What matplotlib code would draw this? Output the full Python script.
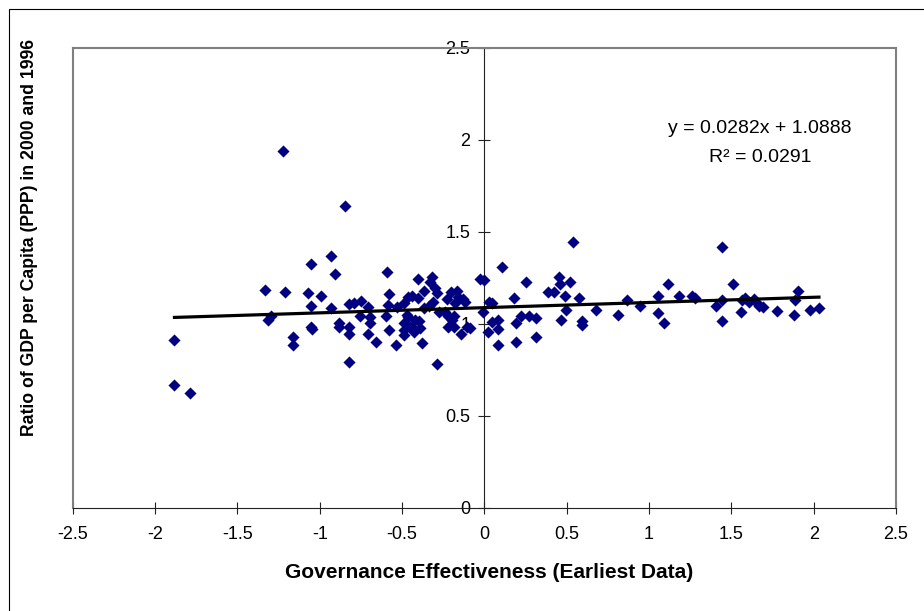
import matplotlib
matplotlib.use('Agg')
import matplotlib.pyplot as plt
import numpy as np

plt.rcParams['font.family'] = ['Liberation Sans', 'DejaVu Sans']

# governance effectiveness (earliest data) -> ratio of GDP per capita 2000/1996
gov_eff = [
    -1.882, -1.882, -1.789,
    -1.331, -1.313, -1.295, -1.224, -1.213, -1.163, -1.163,
    -1.055, -1.070, -1.055, -1.055, -1.045,
    -0.991, -0.930, -0.909, -0.930, -0.884, -0.884,
    -0.848, -0.823, -0.823, -0.823, -0.823,
    -0.794, -0.758, -0.751, -0.705, -0.694, -0.705, -0.658, -0.694,
    -0.594, -0.580, -0.587, -0.580, -0.598, -0.532, -0.537,
    -0.490, -0.472, -0.487, -0.487, -0.454, -0.437, -0.426, -0.491, -0.461, -0.461, -0.421,
    -0.401, -0.394, -0.379, -0.365, -0.365, -0.400, -0.390, -0.441,
    -0.329, -0.315, -0.301, -0.286, -0.311, -0.336, -0.275, -0.289,
    -0.229, -0.222, -0.204, -0.186, -0.186, -0.168, -0.140, -0.132, -0.104, -0.222, -0.239,
    -0.197, -0.158, -0.117, -0.178, -0.087,
    -0.025, 0.000, -0.007, 0.029, 0.047, 0.021, 0.045, 0.082, 0.082, 0.082, 0.107,
    0.179, 0.193, 0.193, 0.225, 0.254, 0.272, 0.315, 0.315,
    0.386, 0.422, 0.451, 0.458, 0.465, 0.487, 0.494, 0.522, 0.537, 0.572, 0.594, 0.594,
    0.680, 0.809, 0.869, 0.945, 1.052, 1.052, 1.091, 1.113, 1.184, 1.263, 1.281,
    1.406, 1.445, 1.442, 1.445, 1.513, 1.556, 1.567, 1.585, 1.605, 1.639, 1.656, 1.667,
    1.692, 1.775, 1.882, 1.889, 1.907, 1.979, 2.032,
]
gdp_ratio = [
    0.914, 0.668, 0.626,
    1.183, 1.020, 1.041, 1.942, 1.172, 0.927, 0.884,
    1.325, 1.166, 1.098, 0.986, 0.971,
    1.151, 1.368, 1.272, 1.088, 1.007, 0.982,
    1.643, 1.109, 0.982, 0.944, 0.791,
    1.113, 1.041, 1.126, 1.092, 1.003, 0.944, 0.901, 1.040,
    1.285, 1.162, 1.103, 0.965, 1.045, 1.094, 0.884,
    1.113, 1.050, 1.003, 0.939, 0.986, 1.151, 0.954, 0.967, 1.148, 1.040, 1.022,
    1.246, 1.014, 0.897, 1.177, 1.088, 1.140, 0.977, 0.985,
    1.226, 1.257, 1.194, 0.781, 1.120, 1.098, 1.067, 1.167,
    1.135, 0.986, 1.172, 1.041, 0.982, 1.177, 0.944, 1.135, 0.982, 1.045, 1.067,
    1.022, 1.148, 1.121, 1.112, 0.977,
    1.245, 1.240, 1.067, 1.120, 1.113, 0.956, 1.013, 1.024, 0.971, 0.884, 1.308,
    1.141, 1.003, 0.901, 1.045, 1.226, 1.045, 1.035, 0.927,
    1.172, 1.172, 1.253, 1.219, 1.020, 1.151, 1.077, 1.226, 1.448, 1.141, 1.014, 0.992,
    1.077, 1.050, 1.130, 1.098, 1.151, 1.060, 1.007, 1.215, 1.151, 1.151, 1.141,
    1.098, 1.416, 1.130, 1.018, 1.215, 1.067, 1.130, 1.141, 1.121, 1.135, 1.112, 1.098,
    1.092, 1.073, 1.050, 1.130, 1.177, 1.077, 1.088,
]
# linear trend shown on the chart
slope = 0.0282
intercept = 1.0888
r_squared = 0.0291

x_ticks = [-2.5, -2, -1.5, -1, -0.5, 0, 0.5, 1, 1.5, 2, 2.5]
x_labels = ['-2.5', '-2', '-1.5', '-1', '-0.5', '0', '0.5', '1', '1.5', '2', '2.5']
y_ticks = [0, 0.5, 1, 1.5, 2, 2.5]
y_labels = ['0', '0.5', '1', '1.5', '2', '2.5']

fig = plt.figure(figsize=(9.24, 6.11), dpi=100)
ax = fig.add_axes([72.7/924, 1 - 508/611, (896 - 72.7)/924, (508 - 48)/611])

# outer chart border (left/top visible)
fig.patches.append(plt.Rectangle((9/924, -0.1), 1.2, 1 - 9/611 + 0.1, transform=fig.transFigure,
                                 fill=False, edgecolor='black', linewidth=0.8))

ax.scatter(gov_eff, gdp_ratio, marker='D', s=38, color='#000080', linewidths=0, zorder=3)

xs = np.array([min(gov_eff), max(gov_eff)])
ax.plot(xs, slope*xs + intercept, color='black', linewidth=2.3, zorder=4)

ax.set_xlim(-2.5, 2.5)
ax.set_ylim(0, 2.5)
ax.set_axisbelow(True)

ax.spines['left'].set_position(('data', 0))
ax.spines['left'].set_color('#222222')
ax.spines['left'].set_linewidth(0.8)
ax.spines['bottom'].set_color('#222222')
ax.spines['bottom'].set_linewidth(0.8)
for s in ['top', 'right']:
    ax.spines[s].set_color('#808080')
    ax.spines[s].set_linewidth(1.5)
ax.plot([-2.5, -2.5], [0, 2.5], color='#808080', linewidth=1.5, clip_on=False, zorder=2)

ax.set_xticks(x_ticks)
ax.set_xticklabels(x_labels)
ax.set_yticks(y_ticks)
ax.set_yticklabels(y_labels)
ax.tick_params(axis='both', direction='inout', length=8, width=0.8, color='#222222',
               labelsize=13, labelcolor='black')
ax.tick_params(axis='x', pad=9)
ax.tick_params(axis='y', pad=6)

ax.text(1.674, 2.062, 'y = 0.0282x + 1.0888', ha='center', va='center', fontsize=14)
ax.text(1.674, 1.903, 'R² = 0.0291', ha='center', va='center', fontsize=14)

fig.text(489/924, 1 - 573/611, 'Governance Effectiveness (Earliest Data)', ha='center', va='center',
         fontsize=15, fontweight='bold')
fig.text(30/924, 1 - 238/611, 'Ratio of GDP per Capita (PPP) in 2000 and 1996', ha='center', va='center',
         rotation=90, fontsize=12.7, fontweight='bold')

fig.savefig('out.png', dpi=100)
